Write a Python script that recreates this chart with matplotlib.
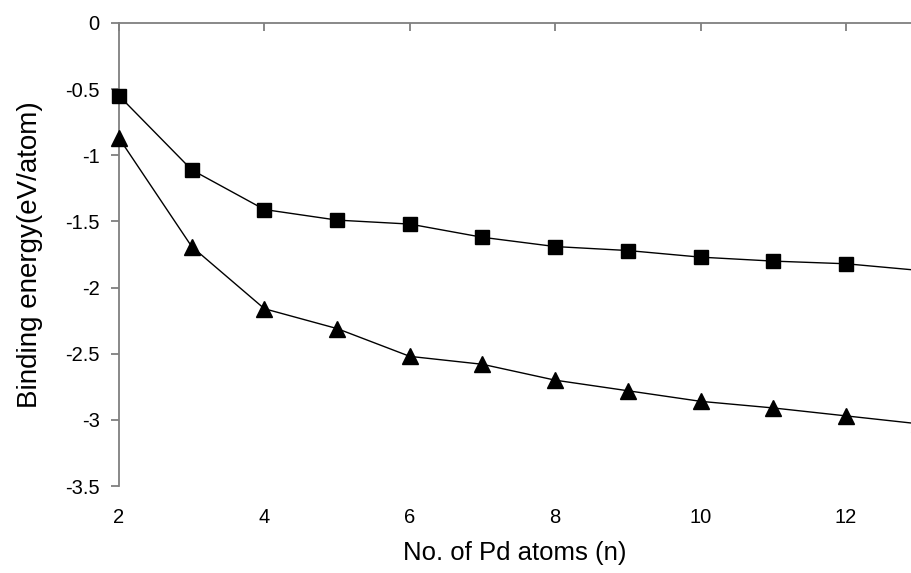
import matplotlib
matplotlib.use("Agg")
import matplotlib.pyplot as plt

# Binding energy vs cluster size
n_atoms = [2, 3, 4, 5, 6, 7, 8, 9, 10, 11, 12, 13]
be_square = [-0.55, -1.11, -1.41, -1.49, -1.52, -1.62, -1.69, -1.72, -1.77, -1.80, -1.82, -1.87]
be_triangle = [-0.87, -1.69, -2.16, -2.31, -2.52, -2.58, -2.70, -2.78, -2.86, -2.91, -2.97, -3.03]

y_ticks = [0, -0.5, -1, -1.5, -2, -2.5, -3, -3.5]
y_ticklabels = ["0", "-0.5", "-1", "-1.5", "-2", "-2.5", "-3", "-3.5"]
x_ticks = [2, 4, 6, 8, 10, 12]

plt.rcParams["font.family"] = ["Liberation Sans", "DejaVu Sans"]

fig = plt.figure(figsize=(9.11, 5.73), dpi=100)
ax = fig.add_axes([119 / 911, 1 - 486 / 573, 1 - 119 / 911, (486 - 23) / 573])

ax.plot(n_atoms, be_square, color="black", lw=1.0, marker="s", ms=9.5,
        mfc="black", mec="black", clip_on=False, zorder=3)
ax.plot(n_atoms, be_triangle, color="black", lw=1.0, marker="^", ms=11,
        mfc="black", mec="black", clip_on=False, zorder=3)

ax.set_xlim(2, 2 + (911 - 119) / 72.7)
ax.set_ylim(-3.5, 0)

# x axis line sits at y=0 (top), labels at the bottom
for side in ("right", "bottom"):
    ax.spines[side].set_visible(False)
for side in ("left", "top"):
    ax.spines[side].set_color("#7f7f7f")
    ax.spines[side].set_linewidth(1.3)

ax.set_xticks(x_ticks)
ax.set_yticks(y_ticks)
ax.set_yticklabels(y_ticklabels)
ax.tick_params(axis="x", top=True, bottom=False, labeltop=False, labelbottom=True,
               direction="in", length=6, width=1.3, color="#7f7f7f",
               labelsize=14.5, pad=16)
ax.tick_params(axis="y", direction="out", length=6, width=1.3, color="#7f7f7f",
               labelsize=14.5, pad=8)

ax.set_xlabel("No. of Pd atoms (n)", fontsize=18.5, labelpad=10)
ax.set_ylabel("Binding energy(eV/atom)", fontsize=20, labelpad=16)

fig.savefig("out.png", dpi=100)
